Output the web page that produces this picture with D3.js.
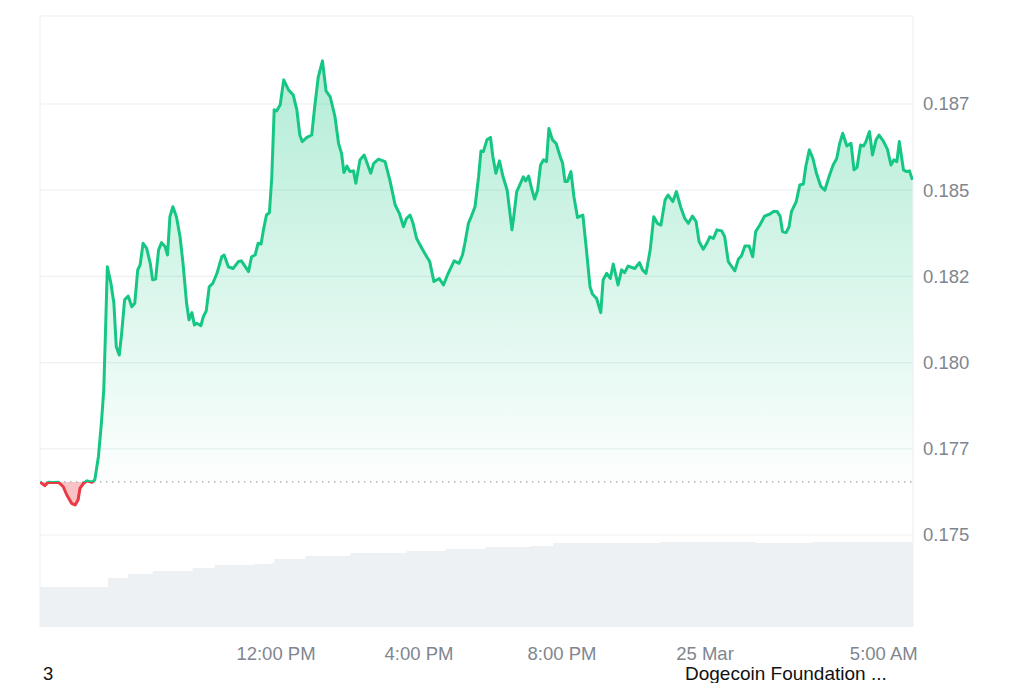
<!DOCTYPE html>
<html>
<head>
<meta charset="utf-8">
<script src="https://cdn.jsdelivr.net/npm/d3@7"></script>
<style>
    body { margin: 0; background: #ffffff; }
    #price-chart { width: 1024px; height: 683px; }
    text { font-family: "Liberation Sans", Arial, sans-serif; }
</style>
</head>
<body>
<div id="price-chart"></div>
<script>

// DOGE / USD, 24 Mar 05:24 -> 25 Mar 05:49
const priceTimes = [
    "24 05:24","24 05:32","24 05:38","24 05:46","24 05:55","24 06:03","24 06:09","24 06:17","24 06:23","24 06:28",
    "24 06:31","24 06:37","24 06:43","24 06:51","24 06:56","24 07:02","24 07:07","24 07:11","24 07:14","24 07:17",
    "24 07:23","24 07:28","24 07:32","24 07:37","24 07:41","24 07:46","24 07:52","24 07:58","24 08:03","24 08:08",
    "24 08:12","24 08:17","24 08:23","24 08:29","24 08:33","24 08:38","24 08:43","24 08:48","24 08:54","24 08:58",
    "24 09:02","24 09:07","24 09:13","24 09:19","24 09:24","24 09:30","24 09:34","24 09:39","24 09:43","24 09:47",
    "24 09:54","24 09:58","24 10:03","24 10:08","24 10:14","24 10:21","24 10:29","24 10:33","24 10:40","24 10:48",
    "24 10:57","24 11:02","24 11:14","24 11:19","24 11:25","24 11:30","24 11:35","24 11:39","24 11:44","24 11:49",
    "24 11:53","24 11:57","24 12:01","24 12:07","24 12:13","24 12:21","24 12:29","24 12:35","24 12:40","24 12:44",
    "24 12:52","24 13:00","24 13:05","24 13:11","24 13:18","24 13:24","24 13:31","24 13:39","24 13:45","24 13:50",
    "24 13:54","24 13:59","24 14:04","24 14:10","24 14:14","24 14:21","24 14:28","24 14:39","24 14:44","24 14:52",
    "24 15:03","24 15:11","24 15:20","24 15:27","24 15:34","24 15:39","24 15:45","24 15:50","24 15:56","24 16:05",
    "24 16:13","24 16:18","24 16:25","24 16:34","24 16:41","24 16:49","24 16:59","24 17:07","24 17:13","24 17:17",
    "24 17:23","24 17:28","24 17:34","24 17:40","24 17:44","24 17:48","24 17:54","24 18:00","24 18:04","24 18:09",
    "24 18:15","24 18:21","24 18:28","24 18:36","24 18:39","24 18:44","24 18:49","24 18:55","24 18:59","24 19:04",
    "24 19:09","24 19:14","24 19:19","24 19:24","24 19:29","24 19:34","24 19:38","24 19:44","24 19:50","24 19:57",
    "24 20:01","24 20:05","24 20:09","24 20:15","24 20:20","24 20:26","24 20:35","24 20:41","24 20:47","24 20:51",
    "24 20:58","24 21:05","24 21:09","24 21:15","24 21:21","24 21:26","24 21:34","24 21:40","24 21:45","24 21:51",
    "24 22:02","24 22:10","24 22:15","24 22:21","24 22:28","24 22:34","24 22:40","24 22:46","24 22:53","24 22:58",
    "24 23:06","24 23:12","24 23:19","24 23:26","24 23:32","24 23:39","24 23:45","24 23:50","24 23:57","25 00:03",
    "25 00:08","25 00:14","25 00:20","25 00:28","25 00:33","25 00:39","25 00:45","25 00:50","25 00:56","25 01:01",
    "25 01:07","25 01:14","25 01:20","25 01:25","25 01:32","25 01:40","25 01:49","25 01:55","25 02:01","25 02:06",
    "25 02:10","25 02:16","25 02:21","25 02:25","25 02:33","25 02:39","25 02:45","25 02:49","25 02:55","25 03:01",
    "25 03:07","25 03:14","25 03:21","25 03:28","25 03:35","25 03:41","25 03:46","25 03:51","25 03:58","25 04:05",
    "25 04:10","25 04:15","25 04:21","25 04:26","25 04:30","25 04:36","25 04:41","25 04:47","25 04:52","25 04:59",
    "25 05:06","25 05:12","25 05:17","25 05:22","25 05:26","25 05:33","25 05:38","25 05:43","25 05:48"
];

const priceValues = [
    0.17654,0.17643,0.17653,0.17652,0.17653,0.17640,0.17616,0.17592,0.17587,0.17602,
    0.17635,0.17650,0.17657,0.17653,0.17660,0.17727,0.17824,0.17921,0.18095,0.18278,
    0.18230,0.18172,0.18046,0.18022,0.18085,0.18182,0.18193,0.18162,0.18172,0.18269,
    0.18283,0.18346,0.18331,0.18288,0.18240,0.18242,0.18327,0.18348,0.18336,0.18312,
    0.18423,0.18452,0.18423,0.18365,0.18288,0.18172,0.18124,0.18145,0.18109,0.18114,
    0.18107,0.18133,0.18150,0.18220,0.18230,0.18259,0.18307,0.18312,0.18278,0.18273,
    0.18293,0.18295,0.18264,0.18307,0.18312,0.18346,0.18344,0.18385,0.18428,0.18435,
    0.18539,0.18733,0.18730,0.18747,0.18820,0.18791,0.18776,0.18733,0.18660,0.18641,
    0.18653,0.18660,0.18742,0.18829,0.18875,0.18788,0.18771,0.18713,0.18636,0.18607,
    0.18551,0.18570,0.18554,0.18556,0.18520,0.18588,0.18602,0.18549,0.18578,0.18590,
    0.18583,0.18530,0.18457,0.18433,0.18394,0.18418,0.18428,0.18404,0.18360,0.18331,
    0.18307,0.18293,0.18235,0.18244,0.18225,0.18259,0.18295,0.18288,0.18312,0.18346,
    0.18404,0.18425,0.18452,0.18539,0.18614,0.18612,0.18646,0.18653,0.18597,0.18549,
    0.18585,0.18539,0.18500,0.18385,0.18423,0.18496,0.18515,0.18539,0.18527,0.18541,
    0.18505,0.18474,0.18500,0.18573,0.18588,0.18583,0.18679,0.18646,0.18636,0.18597,
    0.18578,0.18525,0.18525,0.18554,0.18481,0.18421,0.18428,0.18327,0.18220,0.18199,
    0.18186,0.18145,0.18240,0.18259,0.18244,0.18286,0.18225,0.18269,0.18261,0.18280,
    0.18273,0.18290,0.18269,0.18259,0.18327,0.18423,0.18404,0.18399,0.18472,0.18486,
    0.18467,0.18496,0.18452,0.18418,0.18404,0.18425,0.18409,0.18351,0.18329,0.18346,
    0.18365,0.18360,0.18385,0.18382,0.18365,0.18293,0.18278,0.18266,0.18300,0.18309,
    0.18338,0.18338,0.18307,0.18380,0.18399,0.18425,0.18431,0.18438,0.18438,0.18425,
    0.18380,0.18377,0.18394,0.18438,0.18467,0.18515,0.18518,0.18568,0.18617,0.18592,
    0.18549,0.18512,0.18500,0.18539,0.18573,0.18592,0.18636,0.18665,0.18628,0.18636,
    0.18559,0.18566,0.18631,0.18628,0.18641,0.18670,0.18602,0.18646,0.18660,0.18643,
    0.18619,0.18573,0.18588,0.18583,0.18641,0.18559,0.18554,0.18556,0.18530
];

// price at the start of the window (dotted reference line)
const openPrice = 0.17654;

// 24h volume band at the bottom (relative units)
const volumeTimes = [
    "24 05:24","24 07:18","24 07:51","24 08:33","24 09:40","24 10:17","24 11:24","24 11:52",
    "24 11:57","24 12:49","24 14:05","24 15:39","24 16:45","24 17:52","24 19:07","24 19:45",
    "24 21:10","24 22:45","24 23:32","25 01:26","25 03:01","25 05:49"
];
const volumeValues = [40, 49, 53, 56, 59, 62, 63, 64, 68, 71, 74, 76, 78, 80, 81, 84, 84, 85, 85, 84, 85, 85];

const yTickValues = [0.175, 0.1775, 0.18, 0.1825, 0.185, 0.1875];
const yTickLabels = ["0.175", "0.177", "0.180", "0.182", "0.185", "0.187"];

const xTickTimes = ["24 12:00", "24 16:00", "24 20:00", "25 00:00", "25 05:00"];
const xTickLabels = ["12:00 PM", "4:00 PM", "8:00 PM", "25 Mar", "5:00 AM"];

const timeDomain = ["24 05:24", "25 05:49"];

const parseDay = d3.timeParse("%Y-%m-%d %H:%M");
function parseTime(s) {
    return parseDay("2025-03-" + s);
}


class PriceChart {

    constructor(parentElement) {
        this.parentElement = parentElement;
        this.prices = priceTimes.map((t, i) => ({date: parseTime(t), value: priceValues[i]}));
        this.volume = volumeTimes.map((t, i) => ({date: parseTime(t), value: volumeValues[i]}));

        this.initVis();
    }

    initVis() {
        let vis = this;

        vis.margin = {top: 16, right: 111, bottom: 56, left: 40};
        vis.width = 1024 - vis.margin.left - vis.margin.right;
        vis.height = 683 - vis.margin.top - vis.margin.bottom;

        vis.root = d3.select("#" + vis.parentElement).append("svg")
            .attr("width", 1024)
            .attr("height", 683);

        vis.svg = vis.root.append("g")
            .attr("transform", "translate(" + vis.margin.left + "," + vis.margin.top + ")");

        vis.x = d3.scaleTime()
            .domain(timeDomain.map(parseTime))
            .range([0, vis.width]);

        vis.y = d3.scaleLinear()
            .domain([0.175, 0.1875])
            .range([519, 88]);

        vis.yVol = d3.scaleLinear()
            .domain([0, 100])
            .range([vis.height, vis.height - 100]);

        vis.defs = vis.svg.append("defs");

        vis.updateVis();
    }

    updateVis() {
        let vis = this;
        let baseY = vis.y(openPrice);

        // volume band
        let volArea = d3.area()
            .curve(d3.curveStepAfter)
            .x(d => vis.x(d.date))
            .y0(vis.height)
            .y1(d => vis.yVol(d.value));

        vis.svg.append("path")
            .datum(vis.volume)
            .attr("d", volArea)
            .attr("fill", "#eef1f4");

        // grid
        vis.svg.selectAll(".grid")
            .data(yTickValues)
            .enter()
            .append("line")
            .attr("class", "grid")
            .attr("x1", 0)
            .attr("x2", vis.width)
            .attr("y1", d => vis.y(d))
            .attr("y2", d => vis.y(d))
            .attr("stroke", "#edf0f3")
            .attr("stroke-width", 1.2);

        // frame (top, left, right)
        vis.svg.append("path")
            .attr("d", `M0,${vis.height}V0H${vis.width}V${vis.height}`)
            .attr("fill", "none")
            .attr("stroke", "#edf0f3")
            .attr("stroke-width", 1.2);

        // clip above / below the opening price
        vis.defs.append("clipPath").attr("id", "clip-up")
            .append("rect")
            .attr("x", 0).attr("y", 0)
            .attr("width", vis.width).attr("height", baseY);

        vis.defs.append("clipPath").attr("id", "clip-down")
            .append("rect")
            .attr("x", 0).attr("y", baseY)
            .attr("width", vis.width).attr("height", vis.height - baseY);

        let grad = vis.defs.append("linearGradient")
            .attr("id", "grad-up")
            .attr("gradientUnits", "userSpaceOnUse")
            .attr("x1", 0).attr("x2", 0)
            .attr("y1", vis.y(d3.max(priceValues)))
            .attr("y2", baseY);
        grad.append("stop").attr("offset", "0%").attr("stop-color", "#16c784").attr("stop-opacity", 0.33);
        grad.append("stop").attr("offset", "100%").attr("stop-color", "#16c784").attr("stop-opacity", 0.01);

        let area = d3.area()
            .x(d => vis.x(d.date))
            .y0(baseY)
            .y1(d => vis.y(d.value));

        let line = d3.line()
            .x(d => vis.x(d.date))
            .y(d => vis.y(d.value));

        vis.svg.append("path")
            .datum(vis.prices)
            .attr("d", area)
            .attr("clip-path", "url(#clip-up)")
            .attr("fill", "url(#grad-up)");

        vis.svg.append("path")
            .datum(vis.prices)
            .attr("d", area)
            .attr("clip-path", "url(#clip-down)")
            .attr("fill", "#ea3943")
            .attr("fill-opacity", 0.3);

        // dotted reference line
        vis.svg.append("line")
            .attr("x1", 0)
            .attr("x2", vis.width)
            .attr("y1", baseY)
            .attr("y2", baseY)
            .attr("stroke", "#9aa1ad")
            .attr("stroke-width", 1.4)
            .attr("stroke-dasharray", "1.4,4.6");

        vis.svg.append("path")
            .datum(vis.prices)
            .attr("d", line)
            .attr("clip-path", "url(#clip-up)")
            .attr("fill", "none")
            .attr("stroke", "#16c784")
            .attr("stroke-width", 3)
            .attr("stroke-linejoin", "round");

        vis.svg.append("path")
            .datum(vis.prices)
            .attr("d", line)
            .attr("clip-path", "url(#clip-down)")
            .attr("fill", "none")
            .attr("stroke", "#ea3943")
            .attr("stroke-width", 3)
            .attr("stroke-linejoin", "round");

        // y labels on the right
        vis.svg.selectAll(".y-label")
            .data(yTickValues)
            .enter()
            .append("text")
            .attr("class", "y-label")
            .attr("x", vis.width + 10)
            .attr("y", d => vis.y(d))
            .attr("dy", "0.35em")
            .attr("fill", "#80868f")
            .style("font-size", "18.5px")
            .text((d, i) => yTickLabels[i]);

        // x labels
        vis.svg.selectAll(".x-label")
            .data(xTickTimes)
            .enter()
            .append("text")
            .attr("class", "x-label")
            .attr("x", d => vis.x(parseTime(d)))
            .attr("y", vis.height + 33)
            .attr("text-anchor", "middle")
            .attr("fill", "#80868f")
            .style("font-size", "18.5px")
            .text((d, i) => xTickLabels[i]);

        // cut-off caption under the chart
        vis.root.append("text")
            .attr("x", 43)
            .attr("y", 680)
            .attr("fill", "#111111")
            .style("font-size", "18.5px")
            .text("3");

        vis.root.append("text")
            .attr("x", 685)
            .attr("y", 680)
            .attr("fill", "#111111")
            .style("font-size", "19px")
            .text("Dogecoin Foundation ...");
    }
}

let priceChart = new PriceChart("price-chart");

</script>
</body>
</html>
